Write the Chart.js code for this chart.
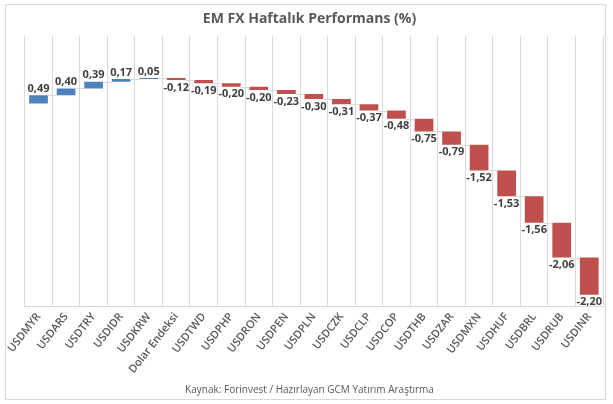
<!DOCTYPE html>
<html>
<head>
<meta charset="utf-8">
<script src="https://cdn.jsdelivr.net/npm/chart.js@4/dist/chart.umd.min.js"></script>
<style>
    html, body { margin: 0; padding: 0; background: #fff; }
    .frame {
        position: absolute; left: 5px; top: 4px;
        width: 599px; height: 394px;
        border: 1px solid #d9d9d9;
    }
    canvas { display: block; }
</style>
</head>
<body>
<div class="frame"><canvas id="fx" width="599" height="394"></canvas></div>
<script>
// Weekly change per currency (%), left to right as in the reference
const categories = ['USDMYR', 'USDARS', 'USDTRY', 'USDIDR', 'USDKRW', 'Dolar Endeksi', 'USDTWD',
    'USDPHP', 'USDRON', 'USDPEN', 'USDPLN', 'USDCZK', 'USDCLP', 'USDCOP', 'USDTHB', 'USDZAR',
    'USDMXN', 'USDHUF', 'USDBRL', 'USDRUB', 'USDINR'];
const changes = [0.49, 0.40, 0.39, 0.17, 0.05, -0.12, -0.19, -0.20, -0.20, -0.23, -0.30,
    -0.31, -0.37, -0.48, -0.75, -0.79, -1.52, -1.53, -1.56, -2.06, -2.20];
const yMin = -12;
const yMax = 4;

const BLUE = '#4f81bd';
const RED = '#c0504d';
const GRID = '#d9d9d9';

// waterfall: each bar starts where the previous one ended
let running = 0;
const floating = changes.map((v) => {
    const start = running;
    running = Math.round((running + v) * 100) / 100;
    return [start, running];
});

const fmt = (v) => v.toFixed(2).replace('.', ',');

const waterfallExtras = {
    id: 'waterfallExtras',
    afterDatasetsDraw(chart) {
        const { ctx, scales: { y } } = chart;
        const bars = chart.getDatasetMeta(0).data;
        ctx.save();

        // connector lines between consecutive bars
        ctx.strokeStyle = GRID;
        ctx.lineWidth = 1;
        for (let i = 0; i < bars.length - 1; i++) {
            const level = Math.round(y.getPixelForValue(floating[i][1])) + 0.5;
            ctx.beginPath();
            ctx.moveTo(bars[i].x + bars[i].width / 2, level);
            ctx.lineTo(bars[i + 1].x - bars[i + 1].width / 2, level);
            ctx.stroke();
        }

        // value labels: above positive bars, below negative ones
        ctx.font = 'bold 11px "Open Sans", sans-serif';
        ctx.fillStyle = '#404040';
        ctx.textAlign = 'center';
        bars.forEach((bar, i) => {
            const v = changes[i];
            const top = y.getPixelForValue(Math.max(...floating[i]));
            const bottom = y.getPixelForValue(Math.min(...floating[i]));
            if (v >= 0) {
                ctx.textBaseline = 'bottom';
                ctx.fillText(fmt(v), bar.x, top - 1);
            } else {
                ctx.textBaseline = 'top';
                ctx.fillText(fmt(v), bar.x, bottom + 2);
            }
        });
        ctx.restore();
    }
};

new Chart(document.getElementById('fx').getContext('2d'), {
    type: 'bar',
    data: {
        labels: categories,
        datasets: [{
            data: floating,
            backgroundColor: changes.map(v => v >= 0 ? BLUE : RED),
            borderWidth: 0,
            categoryPercentage: 1,
            barPercentage: 0.68
        }]
    },
    options: {
        responsive: false,
        animation: false,
        layout: { padding: { left: 10, right: 2, top: 0, bottom: 0 } },
        plugins: {
            legend: { display: false },
            tooltip: { enabled: false },
            title: {
                display: true,
                text: 'EM FX Haftalık Performans (%)',
                color: '#595959',
                font: { family: '"Open Sans", sans-serif', size: 14, weight: 'bold' },
                padding: { top: 6, bottom: 8 }
            },
            subtitle: {
                display: true,
                position: 'bottom',
                text: 'Kaynak: Forinvest / Hazırlayan GCM Yatırım Araştırma',
                color: '#595959',
                font: { family: '"Open Sans", sans-serif', size: 10 },
                padding: { top: 4, bottom: 3 }
            }
        },
        scales: {
            x: {
                grid: { color: GRID, offset: true, drawTicks: false },
                border: { color: GRID },
                ticks: {
                    color: '#595959',
                    font: { family: '"Open Sans", sans-serif', size: 11, weight: '600' },
                    autoSkip: false,
                    minRotation: 52,
                    maxRotation: 52,
                    padding: 4
                }
            },
            y: {
                display: false,
                min: yMin,
                max: yMax
            }
        }
    },
    plugins: [waterfallExtras]
});
</script>
</body>
</html>
